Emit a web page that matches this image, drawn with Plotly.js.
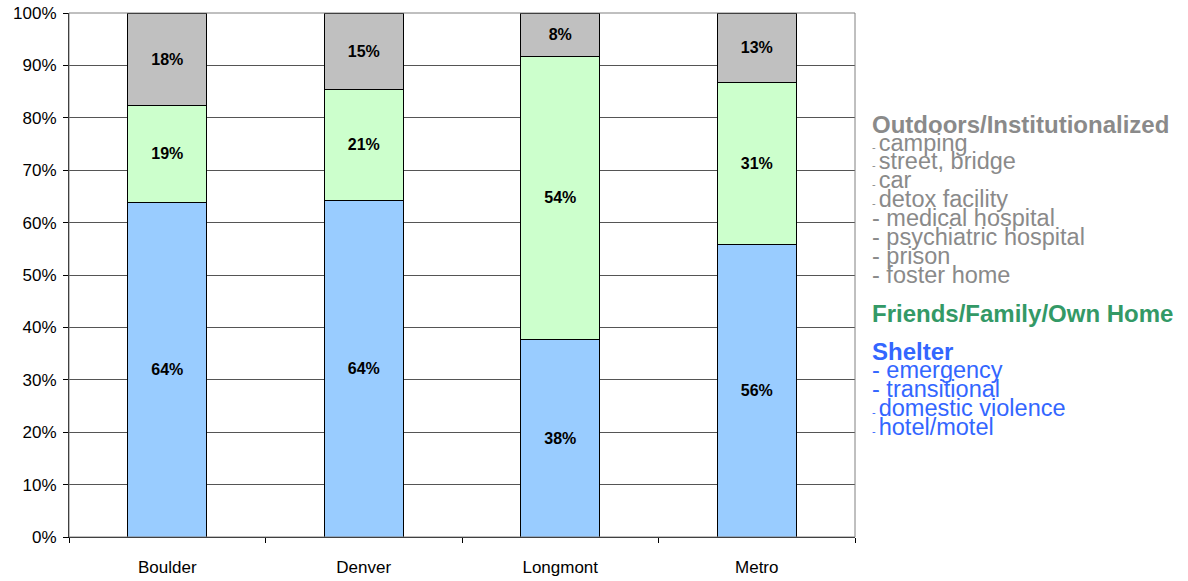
<!DOCTYPE html>
<html>
<head>
<meta charset="utf-8">
<script src="https://cdn.plot.ly/plotly-3.0.1.min.js"></script>
<style>
  html, body { margin: 0; padding: 0; background: #fff; }
  #chart { width: 1188px; height: 581px; }
</style>
</head>
<body>
<div id="chart"></div>
<script>
// Where people slept, share of respondents by area (percent)
const areas = ['Boulder', 'Denver', 'Longmont', 'Metro'];
const shelterPct = [63.8, 64.3, 37.7, 55.9];
const friendsFamilyPct = [18.6, 21.1, 54.0, 30.8];
const outdoorsPct = [17.6, 14.6, 8.3, 13.3];

const yTickVals = [0, 10, 20, 30, 40, 50, 60, 70, 80, 90, 100];
const yTickText = ['0%', '10%', '20%', '30%', '40%', '50%', '60%', '70%', '80%', '90%', '100%'];

// Side key text: heading, then sub-items (small=true draws the short dash)
const outdoorsHeading = 'Outdoors/Institutionalized';
const outdoorsItems = [
  ['camping', true], ['street, bridge', true], ['car', true], ['detox facility', true],
  ['medical hospital', false], ['psychiatric hospital', false], ['prison', false], ['foster home', false]
];
const friendsHeading = 'Friends/Family/Own Home';
const shelterHeading = 'Shelter';
const shelterItems = [
  ['emergency', false], ['transitional', false], ['domestic violence', true], ['hotel/motel', true]
];

const FONT = 'Arial, "Liberation Sans", sans-serif';
const GRAY_TXT = '#8a8a8a';
const GREEN_TXT = '#339966';
const BLUE_TXT = '#3366ff';

function barTrace(name, vals, color) {
  return {
    type: 'bar', name: name, x: areas, y: vals,
    marker: { color: color, line: { color: '#000', width: 1 } },
    texttemplate: '%{y:.0f}%', textposition: 'inside', insidetextanchor: 'middle',
    textangle: 0, constraintext: 'none',
    textfont: { family: FONT, size: 16, color: '#000', weight: 'bold' },
    hoverinfo: 'skip', showlegend: false
  };
}

const traces = [
  barTrace('Shelter', shelterPct, '#99ccff'),
  barTrace('Friends/Family/Own Home', friendsFamilyPct, '#ccffcc'),
  barTrace('Outdoors/Institutionalized', outdoorsPct, '#c0c0c0')
];

// Plot area spans 524 px vertically; convert a pixel row to paper y
const PLOT_TOP = 13, PLOT_H = 524;
const py = p => (PLOT_TOP + PLOT_H - p) / PLOT_H;
const KEY_X = 1 + (870 - 855) / 786;

const annotations = [];
function keyLine(html, baseline, color, size, bold) {
  annotations.push({
    xref: 'paper', yref: 'paper', x: KEY_X, y: py(baseline - 7),
    xanchor: 'left', yanchor: 'middle', showarrow: false, align: 'left',
    text: bold ? '<b>' + html + '</b>' : html,
    font: { family: FONT, size: size, color: color }
  });
}
function item(label, small) {
  return small ? '<span style="font-size:11px">- </span>' + label : '- ' + label;
}

keyLine(outdoorsHeading, 131, GRAY_TXT, 24, true);
outdoorsItems.forEach((it, i) => keyLine(item(it[0], it[1]), 149.5 + i * 18.9, GRAY_TXT, 23.5, false));
keyLine(friendsHeading, 320, GREEN_TXT, 24, true);
keyLine(shelterHeading, 358, BLUE_TXT, 24, true);
shelterItems.forEach((it, i) => keyLine(item(it[0], it[1]), 377 + i * 19, BLUE_TXT, 23.5, false));

const layout = {
  width: 1188, height: 581,
  margin: { l: 69, r: 333, t: 13, b: 44, pad: 0 },
  paper_bgcolor: '#fff', plot_bgcolor: '#fff',
  barmode: 'stack', bargap: 0.6,
  font: { family: FONT, color: '#000' },
  xaxis: {
    type: 'category', showgrid: false, zeroline: false,
    showline: true, linecolor: '#000', linewidth: 1,
    ticks: 'outside', tickson: 'boundaries', ticklen: 5, tickcolor: '#000',
    tickfont: { family: FONT, size: 17, color: '#000' },
    ticklabelstandoff: 15
  },
  yaxis: {
    range: [0, 100], tickmode: 'array', tickvals: yTickVals, ticktext: yTickText,
    showgrid: true, gridcolor: '#555', gridwidth: 1, zeroline: false,
    showline: true, linecolor: '#000', linewidth: 1,
    ticks: 'outside', ticklen: 5, tickcolor: '#000',
    tickfont: { family: FONT, size: 17, color: '#000' },
    ticklabelstandoff: 3
  },
  shapes: [{
    type: 'rect', xref: 'paper', yref: 'paper', x0: 0, x1: 1, y0: 0, y1: 1,
    line: { color: '#808080', width: 1 }, layer: 'above'
  }],
  annotations: annotations
};

Plotly.newPlot('chart', traces, layout, { displayModeBar: false, staticPlot: true });
</script>
</body>
</html>
